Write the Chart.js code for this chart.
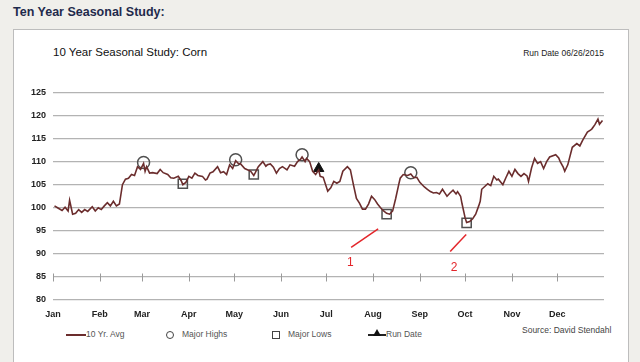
<!DOCTYPE html>
<html>
<head>
<meta charset="utf-8">
<script src="https://cdn.jsdelivr.net/npm/chart.js@4/dist/chart.umd.min.js"></script>
<style>
  body { margin:0; width:640px; height:362px; background:#f0efeb; position:relative; overflow:hidden; font-family:"Liberation Sans", Arial, sans-serif; }
  #page-title { position:absolute; left:13px; top:5px; font-size:12.5px; font-weight:bold; color:#1f2a4c; }
  #box { position:absolute; left:13px; top:29px; width:614px; height:345px; background:#fff; border:1px solid #bdbdbd; }
  #chart-title { position:absolute; left:53px; top:46px; font-size:11.5px; color:#111; }
  #run-date { position:absolute; right:36px; top:48px; font-size:8.5px; color:#222; }
  #chart-wrap { position:absolute; left:13px; top:80px; width:600px; height:245px; }
  #legend { position:absolute; top:328px; left:0; font-size:8.5px; color:#555; }
  .item { position:absolute; white-space:nowrap; top:0; line-height:12px; }
  .sw { display:inline-block; vertical-align:middle; }
  #source { position:absolute; left:522px; top:325px; font-size:8.5px; color:#444; }
</style>
</head>
<body>
<div id="page-title">Ten Year Seasonal Study:</div>
<div id="box"></div>
<div id="chart-title">10 Year Seasonal Study: Corn</div>
<div id="run-date">Run Date 06/26/2015</div>
<div id="chart-wrap"><canvas id="seasonal-chart" width="600" height="245"></canvas></div>
<div id="legend">
  <div class="item" style="left:66px"><span class="sw" style="width:20px;height:2px;background:#6b2d2d"></span>10 Yr. Avg</div>
  <div class="item" style="left:166px"><span class="sw" style="width:6px;height:6px;border:1.2px solid #444;border-radius:50%;margin-right:8px"></span>Major Highs</div>
  <div class="item" style="left:272px"><span class="sw" style="width:6px;height:6px;border:1.2px solid #444;margin-right:8px"></span>Major Lows</div>
  <div class="item" style="left:368px"><span class="sw" style="width:18px;height:2px;background:#222;position:relative"><span style="position:absolute;left:5px;top:-5px;width:0;height:0;border-left:4px solid transparent;border-right:4px solid transparent;border-bottom:7px solid #111"></span></span>Run Date</div>
</div>
<div id="source">Source: David Stendahl</div>

<script>
// tick labels
const months      = ["Jan","Feb","Mar","Apr","May","Jun","Jul","Aug","Sep","Oct","Nov","Dec"];
const monthStarts = [0,31,59,90,120,151,181,212,243,273,304,334];

// 10 yr average, day of year -> index value
const days = [
  1,3,6,8,10,11,13,15,17,19,
  21,23,26,28,30,32,34,36,38,40,
  42,44,46,48,50,52,54,56,58,60,
  61,62,64,66,69,71,73,76,78,80,
  83,85,86,88,90,92,94,96,99,101,
  102,104,106,109,111,113,115,117,119,121,
  123,124,127,131,133,134,136,139,141,142,
  144,146,148,150,152,155,157,160,162,164,
  165,167,168,170,172,174,176,177,179,182,
  184,186,188,190,192,195,197,199,201,203,
  205,207,209,211,213,215,217,219,221,223,
  225,227,229,230,232,235,237,239,241,243,
  246,248,250,252,254,256,258,260,261,263,
  265,267,268,270,271,273,274,276,278,280,
  282,283,284,286,288,290,292,294,295,298,
  300,302,304,306,308,310,312,314,315,317,
  319,321,323,325,327,329,333,335,336,338,
  339,341,344,347,349,351,354,356,357,359,
  361,362,364
];
const avgValues = [
  100.4,100.0,99.4,100.1,99.3,101.6,98.6,98.8,99.6,99.0,
  99.6,99.2,100.2,99.3,100.0,99.6,100.4,101.1,100.4,101.4,
  100.4,100.8,105.0,106.2,106.4,107.2,107.0,108.9,108.3,109.6,
  107.9,108.9,107.5,107.6,107.4,108.3,107.6,107.2,106.5,106.4,
  106.8,105.8,105.0,105.5,106.8,106.4,107.5,107.0,106.8,106.0,
  106.2,107.5,107.8,108.9,107.6,107.8,107.2,109.3,108.5,110.2,
  109.5,109.6,108.5,107.9,107.0,107.6,108.9,110.0,109.0,109.3,
  109.5,108.8,107.5,108.5,108.9,108.2,109.3,109.0,110.0,110.5,
  111.0,110.0,110.7,110.0,107.9,107.2,108.2,106.8,106.6,103.6,
  104.3,105.7,105.3,105.7,107.9,108.9,108.2,105.0,102.0,101.0,
  99.7,99.7,100.8,102.5,101.8,100.8,100.0,99.3,98.8,98.6,
  99.3,102.0,105.0,106.4,107.2,107.0,107.3,106.5,106.6,105.5,
  104.5,104.0,103.5,103.2,103.3,103.0,104.0,103.0,102.5,103.2,
  103.8,103.0,103.5,102.5,100.8,97.8,96.8,97.0,97.6,98.6,
  100.4,101.4,104.0,104.6,105.2,104.8,106.8,106.0,106.2,105.0,
  106.5,107.9,106.8,108.3,107.4,106.8,107.4,106.9,105.7,108.6,
  110.7,109.6,110.0,108.5,110.0,111.0,111.5,110.8,110.0,108.8,
  107.9,109.3,113.1,113.9,113.4,114.7,116.4,116.8,117.1,118.0,
  119.2,118.1,118.9
];

const highDays   = [60,121,165,237];
const highValues = [109.8,110.4,111.5,107.6];
const lowDays    = [86,133,221,274];
const lowValues  = [105.2,107.2,98.6,96.7];
const runDays    = [176];
const runValues  = [108.5];

// red hand-drawn notes
const noteOneDays = [197.5,215.4], noteOneValues = [91.4,95.4];
const noteTwoDays = [263.1,273.7], noteTwoValues = [90.5,94.2];
const noteLabels  = ["1","2"];
const noteLabelDays = [196.9,265.7], noteLabelValues = [88.1,86.9];

const pts = (xs, ys) => xs.map((x, i) => ({ x, y: ys[i] }));

const notesPlugin = {
  id: "notes",
  afterDatasetsDraw(chart) {
    const { ctx, scales: { x, y } } = chart;
    ctx.save();
    // axis line ticks sit on the 85 line
    ctx.strokeStyle = "#9a9a9a";
    ctx.lineWidth = 1;
    const ay = Math.round(y.getPixelForValue(85)) + 0.5;
    monthStarts.forEach(d => {
      const px = Math.round(x.getPixelForValue(d)) + 0.5;
      ctx.beginPath(); ctx.moveTo(px, ay - 4); ctx.lineTo(px, ay + 4); ctx.stroke();
    });
    ctx.fillStyle = "#e3262b";
    ctx.font = "12px 'Liberation Sans', Arial, sans-serif";
    ctx.textAlign = "center";
    ctx.textBaseline = "middle";
    noteLabels.forEach((t, i) => {
      ctx.fillText(t, x.getPixelForValue(noteLabelDays[i]), y.getPixelForValue(noteLabelValues[i]));
    });
    ctx.restore();
  }
};

new Chart(document.getElementById("seasonal-chart"), {
  type: "line",
  data: {
    datasets: [
      { label:"note1", data: pts(noteOneDays, noteOneValues), borderColor:"#e3262b", borderWidth:1.5, pointRadius:0 },
      { label:"note2", data: pts(noteTwoDays, noteTwoValues), borderColor:"#e3262b", borderWidth:1.5, pointRadius:0 },
      { label:"10 Yr. Avg", data: pts(days, avgValues), borderColor:"#6b2d2d", borderWidth:1.6, pointRadius:0, tension:0 },
      { label:"Major Highs", data: pts(highDays, highValues), showLine:false, pointStyle:"circle", pointRadius:6,
        pointBorderColor:"#505050", pointBackgroundColor:"rgba(0,0,0,0)", pointBorderWidth:1.5 },
      { label:"Major Lows", data: pts(lowDays, lowValues), showLine:false, pointStyle:"rect", pointRadius:6.5,
        pointBorderColor:"#505050", pointBackgroundColor:"rgba(0,0,0,0)", pointBorderWidth:1.5 },
      { label:"Run Date", data: pts(runDays, runValues), showLine:false, pointStyle:"triangle", pointRadius:6,
        pointBorderColor:"#111", pointBackgroundColor:"#111", pointBorderWidth:1 }
    ]
  },
  options: {
    responsive: false,
    animation: false,
    layout: { padding: { top:10, right:9, bottom:0, left:0 } },
    plugins: { legend: { display:false }, tooltip: { enabled:false } },
    scales: {
      x: {
        type: "linear", min: 0, max: 365,
        afterBuildTicks: s => { s.ticks = monthStarts.map(v => ({ value: v })); },
        afterFit: s => { s.height = 25; },
        grid: { display:false },
        border: { display:false },
        ticks: {
          autoSkip: false, maxRotation: 0, padding: 1,
          color: "#222", font: { size: 9, weight: "bold", family: "'Liberation Sans', Arial, sans-serif" },
          callback: v => months[monthStarts.indexOf(v)]
        }
      },
      y: {
        min: 80, max: 125,
        afterFit: s => { s.width = 40; },
        border: { display:false },
        grid: { color:"#b3b3b3", lineWidth:1.3, drawTicks:false },
        ticks: {
          stepSize: 5, padding: 7,
          color: "#222", font: { size: 9, weight: "bold", family: "'Liberation Sans', Arial, sans-serif" }
        }
      }
    }
  },
  plugins: [notesPlugin]
});
</script>
</body>
</html>
